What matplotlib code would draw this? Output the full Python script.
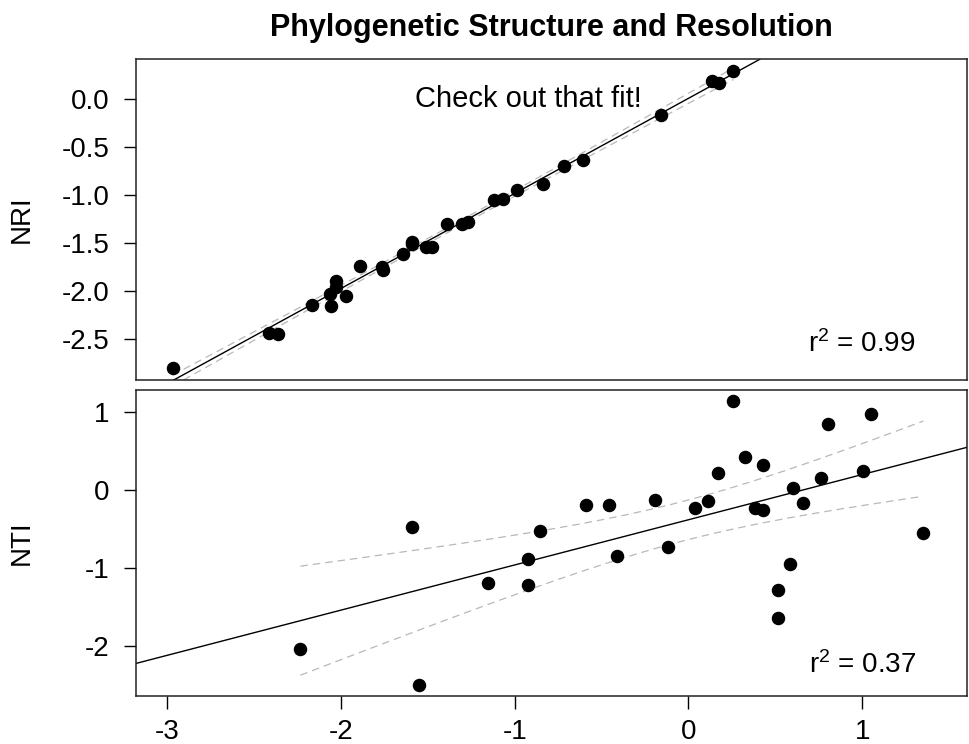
import numpy as np
import matplotlib
matplotlib.use("Agg")
import matplotlib.pyplot as plt

plt.rcParams['font.family'] = ['Liberation Sans', 'DejaVu Sans']
plt.rcParams['axes.unicode_minus'] = False
plt.rcParams['mathtext.fontset'] = 'custom'
plt.rcParams['mathtext.rm'] = 'Liberation Sans'
plt.rcParams['mathtext.it'] = 'Liberation Sans'
plt.rcParams['mathtext.default'] = 'regular'

# NRI panel (top)
nri_x = [-2.97, -2.413, -2.361, -2.169, -2.058, -2.062, -2.031, -2.031, -1.971,
         -1.891, -1.766, -1.760, -1.641, -1.593, -1.593, -1.511, -1.474, -1.391,
         -1.302, -1.267, -1.117, -1.066, -0.989, -0.839, -0.716, -0.609, -0.158,
         0.134, 0.178, 0.259]
nri_y = [-2.80, -2.434, -2.448, -2.146, -2.156, -2.035, -1.896, -1.962, -2.055,
         -1.736, -1.747, -1.781, -1.615, -1.493, -1.51, -1.538, -1.542, -1.302,
         -1.306, -1.278, -1.056, -1.045, -0.948, -0.882, -0.701, -0.639, -0.163,
         0.191, 0.170, 0.295]

# NTI panel (bottom)
nti_x = [-2.234, -1.591, -1.553, -1.155, -0.922, -0.923, -0.854, -0.591, -0.459,
         -0.411, -0.190, -0.117, 0.038, 0.115, 0.170, 0.259, 0.326, 0.383, 0.428,
         0.428, 0.516, 0.516, 0.585, 0.604, 0.661, 0.765, 0.802, 1.003, 1.051, 1.352]
nti_y = [-2.038, -0.466, -2.492, -1.188, -0.885, -1.210, -0.518, -0.184, -0.188,
         -0.838, -0.124, -0.731, -0.227, -0.137, 0.218, 1.141, 0.427, -0.231, -0.248,
         0.328, -1.282, -1.637, -0.949, 0.033, -0.163, 0.154, 0.854, 0.247, 0.978, -0.544]

nri_ticks = [0.0, -0.5, -1.0, -1.5, -2.0, -2.5]
nti_ticks = [1, 0, -1, -2]
x_ticks = [-3, -2, -1, 0, 1]

XLIM = (-3.18, 1.604)


def fit_panel(ax, x, y):
    x = np.array(x)
    y = np.array(y)
    n = len(x)
    b, a = np.polyfit(x, y, 1)
    resid = y - (a + b * x)
    s = np.sqrt(np.sum(resid ** 2) / (n - 2))
    t = 2.048  # t(0.975, 28)
    xx = np.linspace(x.min(), x.max(), 200)
    se = s * np.sqrt(1.0 / n + (xx - x.mean()) ** 2 / np.sum((x - x.mean()) ** 2))
    ax.plot(xx, a + b * xx + t * se, color='#b8b8b8', lw=0.9, ls=(0, (6, 4)))
    ax.plot(xx, a + b * xx - t * se, color='#b8b8b8', lw=0.9, ls=(0, (6, 4)))
    ax.axline((0, a), slope=b, color='black', lw=1.0)
    ax.plot(x, y, 'o', color='black', ms=8.7)


fig = plt.figure(figsize=(9.69, 7.44), dpi=100)
ax1 = fig.add_axes([0.1404, 0.4892, 0.8576, 0.4311])
ax2 = fig.add_axes([0.1404, 0.0649, 0.8576, 0.4109])

fit_panel(ax1, nri_x, nri_y)
fit_panel(ax2, nti_x, nti_y)

ax1.set_xlim(XLIM)
ax1.set_ylim(-2.927, 0.413)
ax2.set_xlim(XLIM)
ax2.set_ylim(-2.633, 1.286)

ax1.set_yticks(nri_ticks)
ax1.set_yticklabels(['%.1f' % v for v in nri_ticks])
ax1.set_xticks([])
ax2.set_yticks(nti_ticks)
ax2.set_xticks(x_ticks)

for ax in (ax1, ax2):
    ax.tick_params(direction='out', length=9, width=1, labelsize=20)
    ax.tick_params(axis='y', pad=10)
    ax.tick_params(axis='x', pad=8)
    for sp in ax.spines.values():
        sp.set_linewidth(1.1)
        sp.set_color('#222222')

ax1.set_ylabel('NRI', fontsize=20)
ax2.set_ylabel('NTI', fontsize=20)
ax1.yaxis.set_label_coords(-0.122, 0.5)
ax2.yaxis.set_label_coords(-0.122, 0.5)

ax1.text(-0.92, 0.0, 'Check out that fit!', fontsize=21, ha='center', va='center')
ax1.text(1.0, -2.55, r'r$^2$ = 0.99', fontsize=20, ha='center', va='center')
ax2.text(1.0, -2.24, r'r$^2$ = 0.37', fontsize=20, ha='center', va='center')

ax1.set_title('Phylogenetic Structure and Resolution', fontsize=22,
              fontweight='bold', pad=17)

fig.savefig('out.png', dpi=100)
